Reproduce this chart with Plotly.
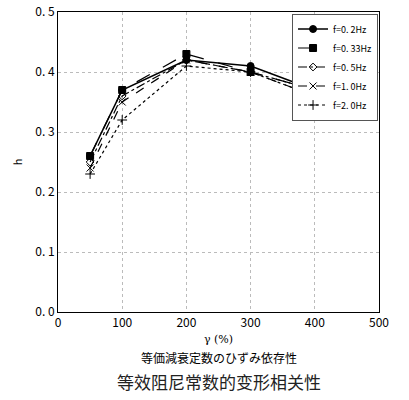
import plotly.graph_objects as go

# strain amplitude (%)
gamma = [50, 100, 200, 300, 400]

# equivalent damping ratio h for each loading frequency
h_02 = [0.26, 0.37, 0.42, 0.41, 0.37]
h_033 = [0.26, 0.37, 0.43, 0.40, 0.37]
h_05 = [0.25, 0.36, 0.42, 0.40, 0.37]
h_10 = [0.24, 0.35, 0.42, 0.40, 0.36]
h_20 = [0.23, 0.32, 0.41, 0.40, 0.36]

names = ["f=0. 2Hz", "f=0. 33Hz", "f=0. 5Hz", "f=1. 0Hz", "f=2. 0Hz"]
series = [h_02, h_033, h_05, h_10, h_20]
y_ticks = [0.0, 0.1, 0.2, 0.3, 0.4, 0.5]
y_labels = ["0. 0", "0. 1", "0. 2", "0. 3", "0. 4", "0. 5"]

dashes = ["solid", "longdash", "dashdot", "dash", "dot"]
symbols = ["circle", "square", "diamond-open", "x-thin-open", "cross-thin-open"]
sizes = [7, 7, 6, 7, 7]

fig = go.Figure()
for nm, ys, ds, sy, sz in zip(names, series, dashes, symbols, sizes):
    fig.add_trace(go.Scatter(
        x=gamma, y=ys, name=nm, mode="lines+markers",
        line=dict(color="black", width=1.6 if ds == "solid" else 1.2, dash=ds),
        marker=dict(symbol=sy, size=sz, color="black",
                    line=dict(color="black", width=1)),
    ))

fig.update_layout(
    width=409, height=400,
    margin=dict(l=58, r=30, t=12, b=88),
    paper_bgcolor="white", plot_bgcolor="white",
    font=dict(family="Noto Sans CJK JP", size=11, color="black"),
    showlegend=True,
    legend=dict(x=0.997, y=0.995, xanchor="right", yanchor="top",
                bgcolor="white", bordercolor="#555", borderwidth=1,
                font=dict(size=9), tracegroupgap=0, itemwidth=30),
    xaxis=dict(range=[0, 500], dtick=100, showline=True, linecolor="black",
               mirror=True, ticks="", showgrid=True, gridcolor="#bbb",
               griddash="dot", zeroline=False, automargin=False,
               tickfont=dict(size=12)),
    yaxis=dict(range=[0, 0.5], tickvals=y_ticks, ticktext=y_labels,
               showline=True, linecolor="black", mirror=True, ticks="",
               showgrid=True, gridcolor="#bbb", griddash="dot",
               zeroline=False, automargin=False, tickfont=dict(size=12),
               title=dict(text="h", standoff=10, font=dict(size=11))),
)

fig.add_annotation(text="γ (%)", xref="paper", yref="paper", x=0.5, y=-0.093,
                   yanchor="middle", showarrow=False,
                   font=dict(size=11, family="DejaVu Serif"))
fig.add_annotation(text="等価減衰定数のひずみ依存性", xref="paper", yref="paper",
                   x=0.5, y=-0.15, yanchor="middle", showarrow=False,
                   font=dict(size=12))
fig.add_annotation(text="等效阻尼常数的变形相关性", xref="paper", yref="paper",
                   x=0.5, y=-0.23, yanchor="middle", showarrow=False,
                   font=dict(size=17, family="Noto Sans CJK SC", color="#222"))

fig.write_html("out.html", config={"displayModeBar": False},
               post_script="document.body.style.margin='0px';")
